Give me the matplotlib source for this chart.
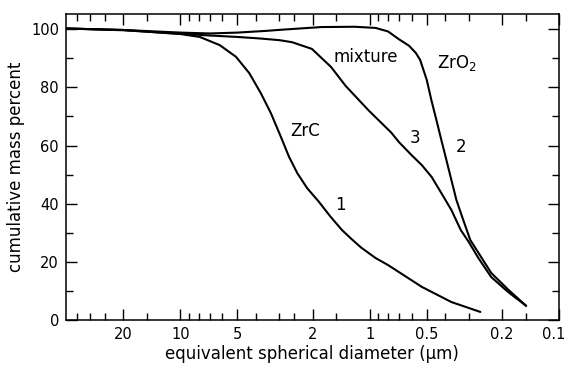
import numpy as np
import matplotlib
matplotlib.use("Agg")
import matplotlib.pyplot as plt
import matplotlib.transforms as mtransforms
from matplotlib.ticker import FixedLocator, NullFormatter

# curve 1: ZrC
size_zrc = [40, 20, 10, 7.9, 6.2, 5.09, 4.33, 3.76, 3.33, 2.95, 2.67, 2.41, 2.14, 1.86,
            1.61, 1.40, 1.26, 1.11, 0.93, 0.80, 0.53, 0.37, 0.26]
mass_zrc = [100.2, 99.7, 98.3, 97.3, 94.5, 90.5, 84.9, 78.0, 71.2, 63.1, 56.2, 50.5, 45.4, 40.8,
            35.6, 31.0, 28.2, 25.0, 21.4, 19.0, 11.5, 6.3, 2.9]

# curve 2: ZrO2
size_zro2 = [40, 20, 10, 7, 5, 3.5, 2.9, 1.8, 1.2, 0.93, 0.80, 0.70, 0.62, 0.57, 0.541, 0.499,
             0.472, 0.444, 0.418, 0.393, 0.370, 0.348, 0.320, 0.294, 0.258, 0.228, 0.185, 0.149]
mass_zro2 = [100.2, 99.7, 98.8, 98.5, 98.8, 99.4, 99.8, 100.7, 100.8, 100.4, 99.2, 96.5, 94.3, 91.8, 89.4, 82.5,
             75.6, 68.8, 61.9, 55.0, 48.2, 41.3, 34.4, 27.6, 21.8, 16.3, 10.5, 5.0]

# curve 3: mixture
size_mix = [40, 20, 10, 7, 5, 3.84, 3.0, 2.57, 2.02, 1.86, 1.6, 1.34, 1.01, 0.77, 0.70,
            0.60, 0.53, 0.47, 0.418, 0.37, 0.33, 0.30, 0.267, 0.228, 0.186, 0.149]
mass_mix = [100.2, 99.6, 98.4, 97.8, 97.3, 96.8, 96.2, 95.5, 93.2, 91.0, 87.0, 80.5, 72.0, 64.5, 61.2,
            56.7, 53.3, 49.2, 43.7, 37.9, 31.0, 27.0, 21.5, 14.9, 9.8, 5.0]

x_major = [20, 10, 5, 2, 1, 0.5, 0.2, 0.1]
x_labels = ["20", "10", "5", "2", "1", "0.5", "0.2", "0.1"]
x_minor = [35, 30, 25, 15, 9, 8, 7, 6, 4, 3, 2.5, 1.5, 0.9, 0.8, 0.7, 0.6, 0.4, 0.3, 0.15]
y_major = [0, 20, 40, 60, 80, 100]
y_minor = [10, 30, 50, 70, 90]

fig = plt.figure(figsize=(5.68, 3.67), dpi=100)
ax = fig.add_axes([0.116, 0.127, 0.868, 0.835])

for xs, ys in [(size_zrc, mass_zrc), (size_zro2, mass_zro2), (size_mix, mass_mix)]:
    ax.plot(xs, ys, color="black", lw=1.5, solid_capstyle="round", solid_joinstyle="round")

ax.set_xscale("log")
ax.set_xlim(40.3, 0.1)
ax.set_ylim(0, 105.2)

ax.xaxis.set_major_locator(FixedLocator(x_major))
ax.set_xticklabels(x_labels)
ax.xaxis.set_minor_locator(FixedLocator(x_minor))
ax.xaxis.set_minor_formatter(NullFormatter())
ax.yaxis.set_major_locator(FixedLocator(y_major))
ax.yaxis.set_minor_locator(FixedLocator(y_minor))

ax.tick_params(which="both", direction="in", top=True, right=True, width=1.0,
               labelsize=10.5, colors="black")
ax.tick_params(which="major", length=8, pad=5)
ax.tick_params(which="minor", length=5)
for s in ax.spines.values():
    s.set_linewidth(1.1)

# keep the last label inside the picture
last = ax.get_xticklabels()[-1]
last.set_ha("right")
last.set_transform(last.get_transform() + mtransforms.ScaledTranslation(6 / 100, 0, fig.dpi_scale_trans))

ax.set_xlabel("equivalent spherical diameter (µm)", fontsize=12, labelpad=2)
ax.set_ylabel("cumulative mass percent", fontsize=12, labelpad=4)

ax.text(2.20, 65.0, "ZrC", fontsize=12, ha="center", va="center")
ax.text(1.42, 39.6, "1", fontsize=12, ha="center", va="center")
ax.text(1.05, 90.4, "mixture", fontsize=12, ha="center", va="center")
ax.text(0.573, 62.6, "3", fontsize=12, ha="center", va="center")
ax.text(0.348, 88.3, "ZrO$_2$", fontsize=12, ha="center", va="center")
ax.text(0.33, 59.5, "2", fontsize=12, ha="center", va="center")

fig.savefig("out.png", dpi=100)
